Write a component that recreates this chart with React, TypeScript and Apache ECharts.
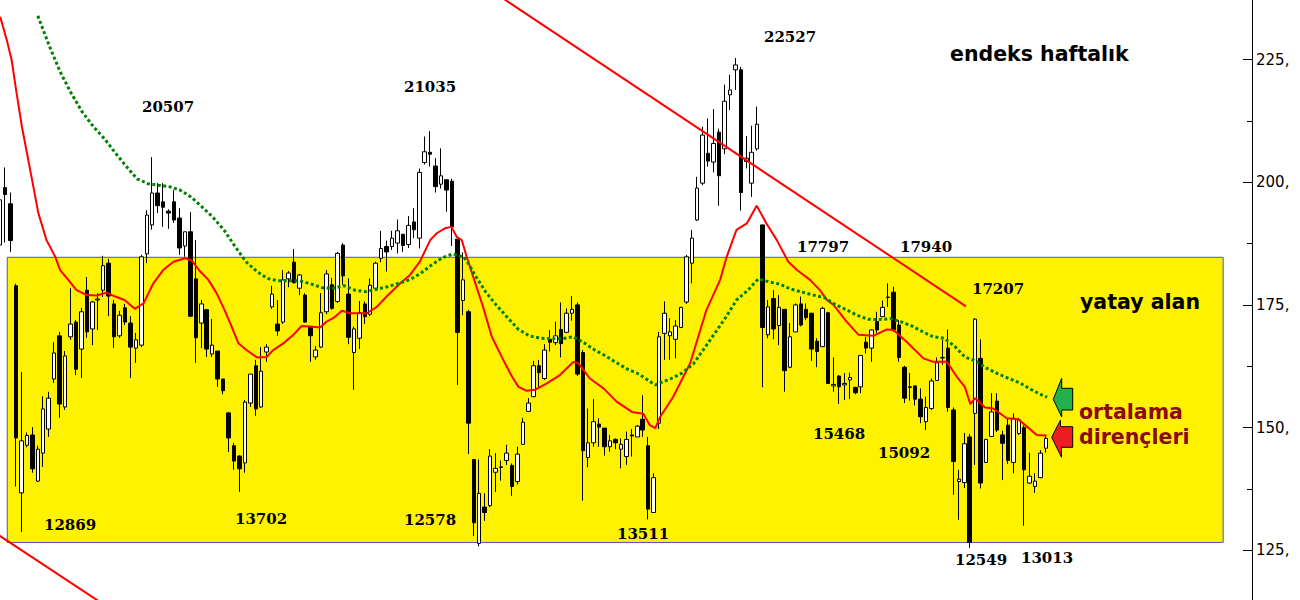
import React, { useEffect, useRef } from "react";
import * as echarts from "echarts";

// weekly candles: [open, close, low, high] (index /100)
const ohlc: number[][] = [
  [187.2, 196.4, 186.8, 196.8], [198.9, 197.5, 187.7, 203.0], [195.6, 188.1, 185.8, 197.9], [178.9, 147.9, 138.0, 179.3],
  [136.7, 147.3, 128.7, 161.3], [146.4, 148.4, 146.0, 149.0], [148.5, 141.6, 140.8, 150.1], [139.1, 145.6, 138.9, 146.3],
  [144.8, 153.8, 142.0, 156.4], [149.7, 156.0, 148.1, 157.3], [159.9, 165.2, 159.1, 167.4], [168.7, 154.8, 152.0, 169.5],
  [154.2, 164.6, 153.6, 165.6], [168.5, 171.1, 167.9, 178.4], [171.5, 161.9, 160.7, 171.9], [166.0, 173.6, 160.1, 174.4],
  [178.0, 169.5, 168.3, 180.7], [170.1, 175.6, 166.8, 175.8], [176.0, 176.2, 169.9, 177.4], [178.0, 183.0, 176.6, 185.0],
  [183.5, 176.8, 172.7, 184.4], [175.2, 168.5, 166.2, 176.0], [168.7, 172.9, 168.3, 173.8], [174.4, 171.5, 170.9, 175.2],
  [171.3, 166.4, 160.1, 172.7], [166.2, 167.9, 163.2, 169.3], [166.8, 184.8, 166.4, 185.2], [185.4, 193.3, 183.5, 194.3],
  [191.3, 197.8, 190.3, 205.1], [197.8, 195.2, 193.7, 199.8], [196.0, 194.9, 190.9, 199.8], [194.1, 193.7, 190.5, 194.5],
  [196.0, 192.3, 191.7, 198.4], [192.7, 186.6, 185.2, 194.7], [187.0, 189.9, 184.8, 189.9], [189.9, 172.7, 172.5, 193.9],
  [180.3, 168.3, 163.2, 188.2], [171.3, 175.2, 166.2, 176.0], [174.0, 166.0, 164.4, 174.2], [165.0, 166.8, 164.4, 172.1],
  [165.6, 159.9, 158.3, 165.6], [159.9, 157.5, 156.8, 159.9], [153.0, 147.9, 145.0, 153.2], [146.3, 143.2, 141.4, 146.9],
  [144.2, 141.6, 136.9, 144.4], [142.8, 155.2, 140.8, 155.6], [155.0, 160.9, 154.2, 160.9], [162.6, 153.8, 152.4, 163.8],
  [154.2, 161.5, 154.0, 166.4], [165.4, 166.4, 163.4, 167.0], [174.6, 177.2, 174.2, 178.9], [171.1, 169.7, 168.7, 176.0],
  [171.5, 180.1, 171.1, 182.1], [180.3, 181.5, 178.6, 181.9], [183.7, 179.5, 179.4, 186.4], [178.4, 181.1, 177.0, 181.3],
  [177.0, 171.5, 171.4, 177.4], [170.5, 168.7, 163.4, 170.7], [164.4, 165.8, 163.8, 166.6], [166.4, 173.4, 166.2, 177.4],
  [173.6, 181.3, 173.1, 182.1], [179.1, 174.3, 174.0, 180.5], [175.7, 185.5, 175.4, 185.8], [187.2, 180.9, 179.1, 187.6],
  [177.2, 168.4, 167.0, 180.4], [165.3, 170.1, 157.7, 170.6], [168.2, 173.4, 166.0, 175.8], [175.2, 172.6, 171.1, 175.7],
  [173.1, 179.0, 172.7, 180.4], [178.4, 183.5, 178.0, 183.8], [184.5, 186.5, 183.7, 190.1], [186.9, 185.8, 181.8, 188.1],
  [186.9, 188.6, 186.2, 190.1], [187.6, 190.1, 185.5, 192.4], [189.4, 187.1, 185.8, 189.4], [187.3, 191.2, 186.6, 193.1],
  [191.9, 190.3, 188.6, 194.7], [188.6, 202.0, 186.5, 202.8], [204.0, 206.2, 203.6, 209.3], [206.1, 205.7, 203.2, 210.4],
  [203.3, 199.1, 197.9, 204.9], [199.6, 201.3, 198.7, 206.9], [200.5, 198.4, 194.0, 200.5], [200.2, 190.9, 187.0, 200.7],
  [188.4, 169.4, 158.7, 188.4], [175.9, 180.1, 172.9, 185.7], [173.6, 150.9, 144.6, 174.0], [143.5, 130.6, 127.9, 143.6],
  [126.4, 136.6, 125.8, 143.5], [133.8, 132.7, 131.0, 136.6], [134.1, 144.2, 133.8, 145.6], [140.9, 141.7, 136.9, 144.8],
  [142.0, 141.9, 139.2, 143.3], [143.3, 144.8, 142.4, 146.5], [142.3, 138.0, 136.1, 142.7], [139.0, 144.6, 138.4, 146.1],
  [146.6, 151.1, 146.5, 152.0], [153.3, 155.0, 153.2, 156.0], [156.3, 162.6, 156.2, 163.6], [162.6, 161.2, 158.3, 163.8],
  [160.0, 165.8, 159.7, 167.0], [168.0, 167.4, 165.5, 169.9], [167.3, 168.7, 166.8, 171.6], [170.0, 167.1, 164.3, 175.5],
  [169.4, 173.3, 169.3, 174.3], [173.3, 174.1, 171.8, 176.8], [175.0, 160.9, 160.5, 175.5], [165.3, 145.3, 135.1, 165.8],
  [143.9, 146.9, 141.9, 153.9], [146.9, 151.2, 146.1, 155.8], [150.7, 150.1, 146.1, 151.9], [149.9, 146.1, 144.3, 149.9],
  [146.1, 147.3, 145.1, 148.5], [147.6, 146.9, 145.6, 147.8], [145.6, 146.6, 141.7, 147.8], [144.1, 147.6, 142.4, 149.2],
  [148.5, 148.3, 144.1, 149.7], [148.1, 150.3, 148.1, 150.5], [151.7, 149.5, 148.1, 156.6], [146.3, 133.4, 131.3, 148.1],
  [132.7, 139.8, 132.6, 140.7], [150.9, 168.5, 149.7, 169.5], [169.2, 173.3, 163.8, 175.7], [168.7, 169.5, 163.8, 172.3],
  [168.0, 170.7, 164.1, 171.9], [170.4, 174.5, 170.3, 174.6], [175.6, 184.8, 175.2, 185.2], [183.5, 188.6, 179.4, 190.3],
  [192.3, 198.8, 192.1, 201.1], [199.8, 209.6, 199.4, 211.3], [205.9, 204.3, 203.2, 213.0], [204.1, 207.9, 202.0, 214.9],
  [210.2, 201.3, 195.2, 210.9], [206.8, 216.5, 205.7, 219.9], [217.8, 218.8, 214.7, 221.9], [222.9, 223.9, 218.8, 225.3],
  [222.9, 197.9, 194.2, 223.5], [204.2, 204.9, 202.8, 209.4], [199.8, 206.1, 197.0, 211.5], [206.8, 211.8, 206.4, 215.4],
  [191.3, 170.4, 158.2, 191.3], [168.9, 174.6, 168.2, 176.0], [176.3, 170.1, 168.0, 178.0], [170.8, 174.5, 166.8, 177.0],
  [174.1, 161.6, 157.3, 174.1], [162.3, 168.5, 162.1, 171.3], [169.5, 175.0, 169.5, 175.3], [175.2, 170.9, 170.6, 176.7],
  [174.1, 172.4, 171.9, 175.3], [173.3, 166.0, 163.6, 173.4], [167.6, 165.5, 162.3, 168.2], [166.5, 174.3, 166.4, 174.6],
  [173.4, 159.0, 158.9, 173.6], [158.5, 158.8, 157.3, 164.3], [160.5, 158.3, 154.8, 160.7], [158.7, 159.0, 155.6, 161.1],
  [159.7, 160.2, 155.8, 161.2], [158.2, 157.1, 156.8, 158.3], [158.3, 164.7, 157.0, 164.8], [167.4, 166.2, 165.1, 168.5],
  [166.2, 169.9, 163.4, 170.0], [171.6, 169.9, 169.3, 173.6], [172.6, 174.5, 172.5, 175.9], [176.5, 176.6, 174.6, 179.4],
  [177.6, 169.9, 169.5, 178.7], [170.9, 164.3, 163.4, 171.9], [162.3, 156.0, 155.0, 162.6], [158.3, 158.2, 155.5, 161.1],
  [158.5, 155.8, 154.5, 158.5], [155.8, 152.2, 150.9, 158.0], [151.2, 154.1, 149.5, 156.3], [153.9, 159.5, 153.6, 160.0],
  [159.6, 163.2, 159.5, 164.3], [164.2, 164.3, 162.8, 167.9], [166.2, 154.1, 153.2, 170.0], [153.6, 143.1, 136.3, 154.1],
  [139.0, 139.5, 131.2, 141.4], [138.8, 146.7, 137.7, 148.9], [148.1, 126.6, 125.5, 148.7], [152.9, 172.1, 142.4, 172.3],
  [164.1, 138.7, 137.6, 168.0], [142.9, 147.6, 142.8, 147.7], [148.2, 153.2, 148.1, 157.0], [155.4, 149.5, 149.1, 157.0],
  [148.5, 146.8, 139.3, 149.4], [150.5, 143.3, 142.6, 151.9], [142.9, 151.9, 140.7, 152.9], [148.8, 151.6, 148.5, 152.0],
  [150.0, 141.4, 130.0, 150.5], [138.7, 140.1, 138.5, 144.9], [138.0, 139.1, 136.7, 140.7], [139.8, 144.8, 139.7, 145.4],
  [145.8, 147.8, 144.9, 148.5],
];

// short moving average (red), [week index, value]
const fastMA: number[][] = [
  [0.1, 233.7], [1.3, 229.0], [2.2, 224.9], [3.1, 218.2], [4.1, 211.2], [5.0, 206.0], [6.2, 199.0], [7.1, 193.7],
  [8.6, 188.2], [10.2, 184.8], [11.1, 182.1], [12.3, 180.5], [14.1, 178.0], [16.0, 177.0], [17.8, 176.9], [19.6, 177.5],
  [21.2, 176.7], [22.9, 176.0], [24.8, 174.2], [26.4, 175.3], [28.2, 179.4], [30.0, 182.1], [31.9, 183.8], [34.0, 184.5],
  [35.2, 184.1], [36.8, 181.8], [38.3, 180.1], [39.8, 177.4], [41.0, 174.6], [42.3, 171.3], [43.8, 167.2], [45.3, 165.8],
  [47.2, 164.3], [49.0, 164.4], [50.2, 165.8], [52.1, 167.2], [53.9, 168.9], [55.4, 170.7], [56.9, 170.6], [58.8, 170.4],
  [60.0, 171.6], [61.2, 172.3], [62.8, 173.8], [64.3, 173.3], [67.4, 173.3], [69.2, 174.6], [71.0, 176.7], [73.5, 179.4],
  [75.3, 181.1], [77.1, 183.8], [79.0, 188.2], [80.2, 189.6], [81.7, 190.6], [82.9, 190.9], [83.9, 188.8], [84.8, 188.2],
  [85.7, 184.8], [86.9, 180.7], [88.7, 174.6], [90.3, 168.5], [92.4, 163.8], [94.0, 160.4], [95.2, 158.3], [96.7, 157.5],
  [98.2, 157.7], [100.4, 159.0], [102.8, 160.7], [105.3, 163.4], [106.2, 163.1], [108.3, 160.0], [110.8, 158.0], [113.2, 155.3],
  [116.0, 153.2], [118.1, 152.8], [119.3, 150.5], [120.3, 149.9], [121.2, 152.2], [123.6, 156.3], [126.7, 163.1], [129.7, 174.0],
  [132.2, 180.1], [133.4, 184.8], [135.2, 190.3], [137.1, 191.6], [138.9, 195.2], [140.7, 191.6], [142.6, 188.2], [144.7, 183.8],
  [146.3, 182.1], [148.7, 180.1], [150.5, 178.0], [151.8, 176.0], [153.0, 175.0], [155.4, 171.6], [157.6, 168.9], [160.3, 168.7],
  [162.8, 170.0], [164.0, 169.9], [166.4, 167.5], [169.5, 164.1], [171.3, 163.4], [173.8, 163.4], [175.6, 160.4], [177.1, 158.3],
  [178.1, 154.8], [179.0, 156.0], [180.8, 154.1], [182.3, 153.9], [184.8, 151.9], [186.9, 151.7], [188.5, 150.2], [190.3, 148.5],
  [192.1, 148.4],
];

// long moving average (green dotted), [week index, value]
const slowMA: number[][] = [
  [7.0, 233.9], [9.1, 227.8], [11.1, 222.5], [13.0, 218.4], [15.1, 214.4], [17.2, 211.3], [19.2, 208.9], [21.2, 206.0],
  [23.1, 203.4], [25.2, 200.7], [27.2, 199.7], [29.1, 199.4], [31.1, 199.1], [33.1, 198.4], [35.1, 197.0], [37.1, 195.0],
  [39.1, 192.9], [41.2, 190.2], [43.2, 186.9], [45.2, 183.8], [47.2, 181.8], [49.1, 180.4], [51.1, 179.9], [53.1, 179.9],
  [55.1, 179.9], [57.1, 179.3], [59.2, 178.5], [61.2, 178.4], [63.2, 178.9], [65.2, 178.0], [67.2, 177.7], [69.2, 178.2],
  [71.2, 178.7], [73.2, 179.4], [75.2, 180.1], [77.1, 181.3], [79.2, 183.1], [81.2, 184.6], [83.2, 185.4], [85.2, 184.7],
  [86.2, 183.1], [87.2, 181.1], [89.2, 177.6], [91.1, 175.0], [93.2, 172.4], [95.2, 170.0], [97.2, 168.7], [99.2, 168.2],
  [101.2, 168.1], [103.2, 168.1], [105.2, 168.5], [107.2, 167.3], [109.2, 165.8], [111.2, 164.6], [113.2, 163.2], [115.2, 161.9],
  [117.3, 160.9], [119.2, 159.5], [120.3, 158.7], [121.2, 159.1], [123.2, 160.0], [125.2, 161.1], [127.3, 163.0], [129.2, 166.0],
  [131.2, 169.2], [133.2, 172.4], [135.2, 176.0], [137.3, 178.0], [139.2, 180.3], [141.2, 179.7], [143.2, 179.2], [145.2, 178.2],
  [147.3, 177.6], [149.3, 177.0], [151.3, 176.5], [153.3, 175.1], [155.2, 174.1], [157.3, 172.9], [159.3, 172.1], [161.3, 172.0],
  [163.4, 172.2], [165.3, 171.6], [167.4, 170.7], [169.4, 169.5], [171.3, 168.5], [173.3, 168.2], [175.3, 166.5], [177.1, 164.4],
  [179.2, 163.5], [181.1, 162.1], [183.1, 161.0], [185.2, 160.0], [187.2, 159.1], [189.2, 157.8], [191.3, 156.6], [192.2, 156.2],
];

// falling trend channel lines, [week index, value]
const upperTrend: number[][] = [[90, 239.2], [177.3, 174.7]];
const lowerTrend: number[][] = [[-1, 128.7], [20, 113.3]];

// horizontal range ("yatay alan") corners: [week index, value]
const rangeStart: number[] = [1.4, 184.7];
const rangeEnd: number[] = [224.5, 126.6];

// level annotations
const levelLabels: string[] = [
  "20507", "21035", "22527", "17797", "17940", "17207",
  "12869", "13702", "12578", "13511", "15468", "15092", "12549", "13013",
];
const titleText = "endeks haftalık";
const rangeText = "yatay alan";
const maText1 = "ortalama";
const maText2 = "dirençleri";

// layout (pixels) for the annotations
const levelLabelPos: number[][] = [
  [142, 107], [404, 87], [764, 37], [797, 247], [900, 246.5], [972, 289],
  [44, 525], [235, 519], [404, 520], [617, 533.5], [813, 434], [878, 453], [955, 559.5], [1021, 557.5],
];

export default function App() {
  const ref = useRef<HTMLDivElement>(null);
  useEffect(() => {
    if (!ref.current) return;
    const chart = echarts.init(ref.current, undefined, { renderer: "svg" });
    const candles = ohlc.map((d, i) => [i, d[0], d[1], d[2], d[3]]);
    const sansBold = { fontFamily: "DejaVu Sans", fontWeight: "bold", fontSize: 20.5 };
    const graphic: any[] = levelLabels.map((t, i) => ({
      type: "text",
      z: 100,
      x: levelLabelPos[i][0],
      y: levelLabelPos[i][1],
      style: {
        text: t,
        fill: "#000",
        fontFamily: "DejaVu Serif",
        fontWeight: "bold",
        fontSize: 15,
        textAlign: "left",
        textVerticalAlign: "middle",
      },
    }));
    graphic.push(
      { type: "text", z: 100, x: 950, y: 54, style: { text: titleText, fill: "#000", ...sansBold, textAlign: "left", textVerticalAlign: "middle" } },
      { type: "text", z: 100, x: 1080, y: 301.5, style: { text: rangeText, fill: "#000", ...sansBold, textAlign: "left", textVerticalAlign: "middle" } },
      { type: "text", z: 100, x: 1079, y: 411.5, style: { text: maText1, fill: "#8b0a10", ...sansBold, textAlign: "left", textVerticalAlign: "middle" } },
      { type: "text", z: 100, x: 1079, y: 436.5, style: { text: maText2, fill: "#8b0a10", ...sansBold, textAlign: "left", textVerticalAlign: "middle" } },
      {
        type: "polygon",
        z: 100,
        shape: { points: [[1053.3, 399.3], [1061.7, 378.3], [1061.7, 388.3], [1072.7, 388.3], [1072.7, 410], [1061.7, 410], [1061.7, 417]] },
        style: { fill: "#22b14c", stroke: "#000", lineWidth: 1 },
      },
      {
        type: "polygon",
        z: 100,
        shape: { points: [[1051.7, 437.3], [1060.5, 420], [1060.5, 426.7], [1072.7, 426.7], [1072.7, 447.3], [1061.5, 447.3], [1061.5, 457.3]] },
        style: { fill: "#ed1c24", stroke: "#000", lineWidth: 1 },
      }
    );

    chart.setOption({
      animation: false,
      backgroundColor: "#fff",
      grid: { left: 0, right: 48, top: -63.2, bottom: -73, containLabel: false, outerBoundsMode: "none" },
      xAxis: {
        type: "value",
        min: 0.0642,
        max: 229.79,
        show: false,
        splitLine: { show: false },
      },
      yAxis: {
        type: "value",
        position: "right",
        min: 100,
        max: 250,
        interval: 25,
        axisLine: { show: true, onZero: false, lineStyle: { color: "#000", width: 1 } },
        axisTick: { show: true, inside: true, length: 9, lineStyle: { color: "#000", width: 1 } },
        minorTick: { show: true, splitNumber: 2, length: 5, lineStyle: { color: "#000", width: 1 } },
        splitLine: { show: false },
        axisLabel: {
          formatter: (v: number) => `${v},`,
          showMinLabel: false,
          showMaxLabel: false,
          color: "#000",
          fontFamily: "DejaVu Sans",
          fontSize: 15,
          margin: 4,
          padding: [5, 0, 0, 0],
        },
      },
      graphic,
      series: [
        {
          type: "line",
          data: [],
          z: 1,
          silent: true,
          markArea: {
            silent: true,
            itemStyle: { color: "#fff200", borderColor: "#5050c8", borderWidth: 1 },
            data: [[{ coord: rangeStart }, { coord: rangeEnd }]],
          },
        },
        {
          type: "candlestick",
          z: 2,
          data: candles,
          encode: { x: 0, y: [1, 2, 3, 4] },
          barWidth: 4,
          itemStyle: {
            color: "#ffffff",
            color0: "#000000",
            borderColor: "#000000",
            borderColor0: "#000000",
            borderWidth: 1,
          },
        },
        {
          type: "line",
          z: 3,
          data: fastMA,
          showSymbol: false,
          symbol: "none",
          lineStyle: { color: "#ff0000", width: 2 },
        },
        {
          type: "line",
          z: 3,
          data: slowMA,
          showSymbol: false,
          symbol: "none",
          lineStyle: { color: "#008000", width: 3, type: [3, 2.5], cap: "butt" },
        },
        {
          type: "line",
          z: 3,
          data: upperTrend,
          showSymbol: false,
          symbol: "none",
          lineStyle: { color: "#ff0000", width: 2 },
        },
        {
          type: "line",
          z: 3,
          data: lowerTrend,
          showSymbol: false,
          symbol: "none",
          lineStyle: { color: "#ff0000", width: 2 },
        },
      ],
    });
    return () => chart.dispose();
  }, []);
  return <div ref={ref} style={{ position: "absolute", left: 0, top: 0, width: 1300, height: 600 }} />;
}
